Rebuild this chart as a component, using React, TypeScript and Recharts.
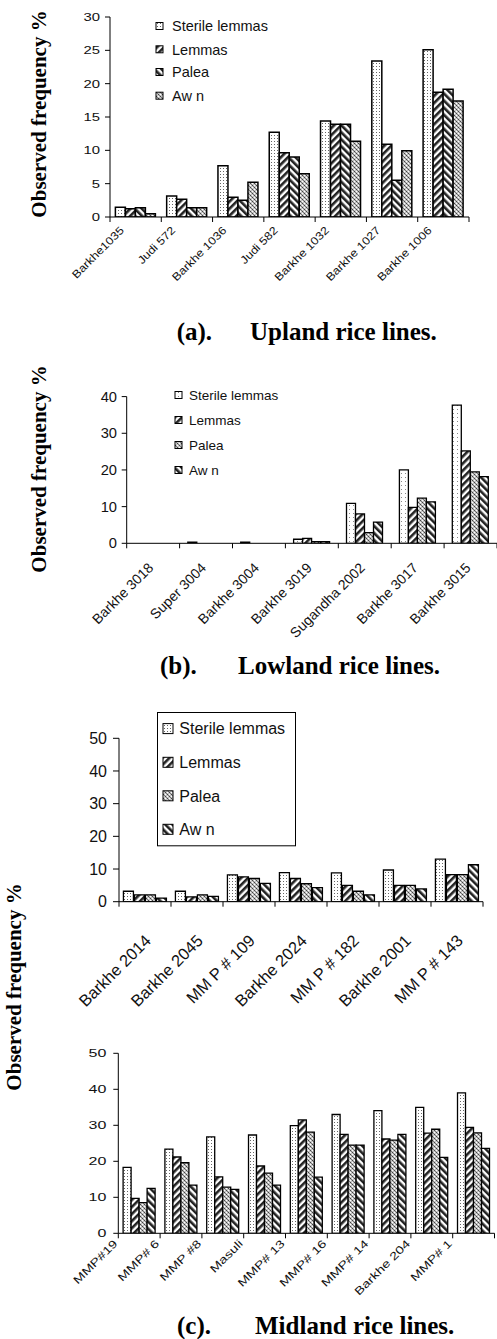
import React from 'react'
import { BarChart, Bar, XAxis, YAxis, Legend } from 'recharts'

const SANS = '"Liberation Sans", Arial, sans-serif'
const SERIF = '"Liberation Serif", "Times New Roman", serif'

const SERIES = ['Sterile lemmas', 'Lemmas', 'Palea', 'Aw n']
const KEYS = ['sterile', 'lemmas', 'palea', 'awn']

// (a) upland
const uplandLines = ['Barkhe1035', 'Judi 572', 'Barkhe 1036', 'Judi 582', 'Barkhe 1032', 'Barkhe 1027', 'Barkhe 1006']
const uplandSterile = [1.45, 3.15, 7.7, 12.7, 14.4, 23.4, 25.1]
const uplandLemmas = [1.25, 2.65, 2.95, 9.65, 13.9, 10.9, 18.7]
const uplandPalea = [1.4, 1.4, 2.5, 9.0, 13.9, 5.5, 19.15]
const uplandAwn = [0.5, 1.4, 5.2, 6.5, 11.35, 9.95, 17.4]
const uplandTicks = [0, 5, 10, 15, 20, 25, 30]

// (b) lowland
const lowlandLines = ['Barkhe 3018', 'Super 3004', 'Barkhe 3004', 'Barkhe 3019', 'Sugandha 2002', 'Barkhe 3017', 'Barkhe 3015']
const lowlandSterile = [0, 0.3, 0.3, 1.1, 10.9, 20.0, 37.7]
const lowlandLemmas = [0, 0, 0, 1.35, 8.0, 9.8, 25.2]
const lowlandPalea = [0, 0, 0, 0.45, 2.9, 12.3, 19.5]
const lowlandAwn = [0, 0, 0, 0.45, 5.8, 11.3, 18.2]
const lowlandTicks = [0, 10, 20, 30, 40]

// (c) midland, first panel
const midlandLinesA = ['Barkhe 2014', 'Barkhe 2045', 'MM P # 109', 'Barkhe 2024', 'MM P # 182', 'Barkhe 2001', 'MM P # 143']
const midlandSterileA = [3.2, 3.2, 8.2, 8.9, 8.8, 9.7, 13.0]
const midlandLemmasA = [2.1, 1.5, 7.6, 7.1, 5.0, 5.0, 8.3]
const midlandPaleaA = [2.1, 2.1, 7.1, 5.5, 3.2, 5.0, 8.3]
const midlandAwnA = [1.1, 1.6, 5.6, 4.3, 2.1, 3.9, 11.3]

// (c) midland, second panel
const midlandLinesB = ['MMP#19', 'MMP# 6', 'MMP #8', 'Masuli', 'MMP# 13', 'MMP# 16', 'MMP# 14', 'Barkhe 204', 'MMP# 1']
const midlandSterileB = [18.3, 23.4, 26.8, 27.3, 29.9, 33.0, 34.1, 35.0, 39.0]
const midlandLemmasB = [9.7, 21.2, 15.7, 18.7, 31.5, 27.5, 26.2, 27.8, 29.4]
const midlandPaleaB = [8.5, 19.6, 12.8, 16.7, 28.1, 24.5, 25.9, 28.9, 27.9]
const midlandAwnB = [12.5, 13.4, 12.2, 13.4, 15.6, 24.5, 27.5, 21.1, 23.6]
const midlandTicks = [0, 10, 20, 30, 40, 50]

interface LegendCfg {
  swX: number
  sw: number
  tx: number
  rows: number[]
  font: number
  box?: [number, number, number, number]
}

interface PanelProps {
  top: number
  bottom: number
  x0: number
  x1: number
  yTop: number
  y0: number
  lines: string[]
  values: number[][]
  max: number
  ticks: number[]
  fills: string[]
  gap: string
  barGap?: number
  strokeW: number
  yFont: number
  ySx: number
  yTickSize: number
  yMargin: number
  xFont: number
  xSx: number
  xDx: number
  xDy: number
  legend?: LegendCfg
}

function Panel(p: PanelProps) {
  const height = p.bottom - p.top
  const yAxisW = 60
  const xAxisH = p.bottom - p.y0
  const bw = (p.x1 - p.x0) / p.lines.length
  const data = p.lines.map((name, i) => ({
    name,
    sterile: p.values[0][i],
    lemmas: p.values[1][i],
    palea: p.values[2][i],
    awn: p.values[3][i],
  }))

  // category labels, tick marks sit between the groups
  const xTick = (t: any) => {
    const { x, y, payload, index } = t
    return (
      <g>
        <line x1={x - bw / 2} x2={x - bw / 2} y1={y} y2={y + 5} stroke="#000" />
        {index === p.lines.length - 1 && (
          <line x1={x + bw / 2} x2={x + bw / 2} y1={y} y2={y + 5} stroke="#000" />
        )}
        <text
          transform={`translate(${x + p.xDx},${y + p.xDy}) rotate(-45) scale(${p.xSx},1)`}
          textAnchor="end"
          fontSize={p.xFont}
          fontFamily={SANS}
          fill="#111"
        >
          {payload.value}
        </text>
      </g>
    )
  }

  const yTick = (t: any) => (
    <text
      transform={`translate(${t.x},${t.y}) scale(${p.ySx},1)`}
      textAnchor="end"
      dy="0.36em"
      fontSize={p.yFont}
      fontFamily={SANS}
      fill="#111"
    >
      {t.payload.value}
    </text>
  )

  const lg = p.legend
  let legendEl = null
  if (lg) {
    const lx = lg.box ? lg.box[0] : lg.swX - 6
    const ly = lg.box ? lg.box[1] : lg.rows[0] - 16
    const lw = lg.box ? lg.box[2] - lg.box[0] : 150
    const lh = lg.box ? lg.box[3] - lg.box[1] : lg.rows[3] - lg.rows[0] + 32
    legendEl = (
      <Legend
        layout="vertical"
        align="center"
        verticalAlign="middle"
        wrapperStyle={{ left: lx, top: ly - p.top, width: lw + 2, height: lh + 2 }}
        content={() => (
          <svg width={lw + 2} height={lh + 2} style={{ display: 'block' }}>
            {lg.box && <rect x={0.5} y={0.5} width={lw} height={lh} fill="#fff" stroke="#000" />}
            {SERIES.map((s, i) => (
              <g key={s}>
                <rect
                  x={lg.swX - lx}
                  y={lg.rows[i] - ly - lg.sw / 2}
                  width={lg.sw}
                  height={lg.sw}
                  fill={`url(#${p.fills[i]})`}
                  stroke="#000"
                  strokeWidth={1}
                />
                <text x={lg.tx - lx} y={lg.rows[i] - ly} dy="0.36em" fontSize={lg.font} fontFamily={SANS} fill="#111">
                  {s}
                </text>
              </g>
            ))}
          </svg>
        )}
      />
    )
  }

  return (
    <div style={{ position: 'absolute', left: 0, top: p.top }}>
      <BarChart
        width={497}
        height={height}
        data={data}
        margin={{ top: p.yTop - p.top, right: 497 - p.x1, bottom: 0, left: p.x0 - yAxisW }}
        barCategoryGap={p.gap}
        barGap={p.barGap ?? 0}
      >
        <XAxis
          dataKey="name"
          height={xAxisH}
          interval={0}
          tickSize={0}
          tickMargin={0}
          tickLine={false}
          axisLine={{ stroke: '#000' }}
          tick={xTick}
        />
        <YAxis
          width={yAxisW}
          domain={[0, p.max]}
          ticks={p.ticks}
          interval={0}
          allowDataOverflow
          tickSize={p.yTickSize}
          tickMargin={p.yMargin}
          axisLine={{ stroke: '#000' }}
          tickLine={{ stroke: '#000' }}
          tick={yTick}
        />
        {KEYS.map((k, i) => (
          <Bar
            key={k}
            dataKey={k}
            name={SERIES[i]}
            fill={`url(#${p.fills[i]})`}
            stroke="#000"
            strokeWidth={p.strokeW}
            isAnimationActive={false}
          />
        ))}
        {legendEl}
      </BarChart>
    </div>
  )
}

function Patterns() {
  return (
    <svg width={0} height={0} style={{ position: 'absolute' }}>
      <defs>
        <pattern id="dots" width={3} height={3} patternUnits="userSpaceOnUse">
          <rect width={3} height={3} fill="#fff" />
          <rect x={1} y={1} width={1} height={1} fill="#666" />
        </pattern>
        <pattern id="dotsSparse" width={4} height={4} patternUnits="userSpaceOnUse">
          <rect width={4} height={4} fill="#fff" />
          <rect x={1} y={1} width={1} height={1} fill="#888" />
        </pattern>
        <pattern id="fwd" width={5} height={5} patternUnits="userSpaceOnUse" patternTransform="rotate(45)">
          <rect width={5} height={5} fill="#fff" />
          <rect width={2.6} height={5} fill="#222" />
        </pattern>
        <pattern id="back" width={5} height={5} patternUnits="userSpaceOnUse" patternTransform="rotate(-45)">
          <rect width={5} height={5} fill="#fff" />
          <rect width={2.6} height={5} fill="#222" />
        </pattern>
        <pattern id="check" width={4} height={4} patternUnits="userSpaceOnUse">
          <rect width={4} height={4} fill="#c4c4c4" />
          <rect x={0} y={0} width={1} height={1} fill="#444" />
          <rect x={2} y={2} width={1} height={1} fill="#444" />
          <rect x={2} y={0} width={1} height={1} fill="#fff" />
          <rect x={0} y={2} width={1} height={1} fill="#fff" />
          <rect x={1} y={1} width={1} height={1} fill="#777" />
          <rect x={3} y={3} width={1} height={1} fill="#777" />
        </pattern>
      </defs>
    </svg>
  )
}

export default function App() {
  const titleStyle = { fontFamily: SERIF, fontWeight: 'bold' as const, fontSize: 25, fill: '#000' }
  const ylabStyle = { fontFamily: SERIF, fontWeight: 'bold' as const, fontSize: 21, fill: '#000' }
  return (
    <div style={{ position: 'absolute', left: 0, top: 0, width: 497, height: 1339, background: '#fff', overflow: 'hidden' }}>
      <Patterns />
      <svg width={497} height={1339} style={{ position: 'absolute', left: 0, top: 0 }}>
        <text transform="translate(46.3,114) rotate(-90)" textAnchor="middle" style={ylabStyle}>Observed frequency %</text>
        <text transform="translate(45.6,469) rotate(-90)" textAnchor="middle" style={ylabStyle}>Observed frequency %</text>
        <text transform="translate(21,987) rotate(-90)" textAnchor="middle" style={ylabStyle}>Observed frequency %</text>
        <text x={176.7} y={340} style={titleStyle}>(a).</text>
        <text x={250} y={340} style={titleStyle}>Upland rice lines.</text>
        <text x={160} y={674} style={titleStyle}>(b).</text>
        <text x={238} y={674} style={titleStyle}>Lowland rice lines.</text>
        <text x={177} y={1334} style={titleStyle}>(c).</text>
        <text x={255} y={1334} style={titleStyle}>Midland rice lines.</text>
      </svg>

      <Panel
        top={5} bottom={300} x0={110} x1={469} yTop={17} y0={217}
        lines={uplandLines}
        values={[uplandSterile, uplandLemmas, uplandPalea, uplandAwn]}
        max={30} ticks={uplandTicks}
        fills={['dots', 'fwd', 'back', 'check']}
        gap="10.5%" strokeW={1.5}
        yFont={11} ySx={1.35} yTickSize={5} yMargin={5}
        xFont={11} xSx={1.15} xDx={-11} xDy={14}
        legend={{ swX: 155.7, sw: 7, tx: 171.7, rows: [26, 49.3, 72, 95.7], font: 14.5 }}
      />

      <Panel
        top={380} bottom={640} x0={126.7} x1={497} yTop={396.6} y0={543.3}
        lines={lowlandLines}
        values={[lowlandSterile, lowlandLemmas, lowlandPalea, lowlandAwn]}
        max={40} ticks={lowlandTicks}
        fills={['dotsSparse', 'fwd', 'check', 'back']}
        gap="15.5%" strokeW={1.3}
        yFont={14} ySx={1.05} yTickSize={5} yMargin={4.7}
        xFont={14} xSx={1} xDx={1} xDy={25.5}
        legend={{ swX: 175, sw: 7, tx: 189, rows: [395, 420, 445, 470], font: 13.5 }}
      />

      <Panel
        top={700} bottom={1010} x0={119} x1={483} yTop={738.3} y0={901.7}
        lines={midlandLinesA}
        values={[midlandSterileA, midlandLemmasA, midlandPaleaA, midlandAwnA]}
        max={50} ticks={midlandTicks}
        fills={['dots', 'fwd', 'check', 'back']}
        gap="8.5%" barGap={1} strokeW={1.3}
        yFont={16} ySx={1} yTickSize={6} yMargin={6}
        xFont={16.5} xSx={1} xDx={7} xDy={40}
        legend={{ swX: 162.7, sw: 10, tx: 179, rows: [728.3, 762, 795.5, 829], font: 16, box: [156.7, 711.7, 294.7, 845] }}
      />

      <Panel
        top={1040} bottom={1300} x0={118.3} x1={494.5} yTop={1053.3} y0={1233.3}
        lines={midlandLinesB}
        values={[midlandSterileB, midlandLemmasB, midlandPaleaB, midlandAwnB]}
        max={50} ticks={midlandTicks}
        fills={['dots', 'fwd', 'check', 'back']}
        gap="11.5%" strokeW={1.3}
        yFont={10} ySx={1.6} yTickSize={5} yMargin={7}
        xFont={11} xSx={1.3} xDx={-21} xDy={11}
      />
    </div>
  )
}
